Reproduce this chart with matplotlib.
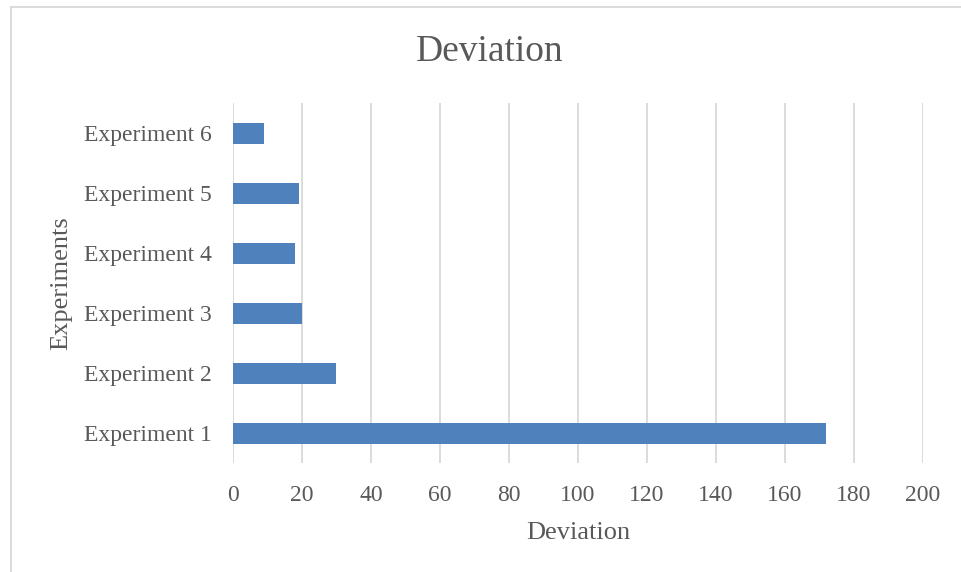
import matplotlib
matplotlib.use("Agg")
import matplotlib.pyplot as plt
from matplotlib.lines import Line2D

experiments = ["Experiment 1", "Experiment 2", "Experiment 3",
               "Experiment 4", "Experiment 5", "Experiment 6"]
deviation = [172, 30, 20, 18, 19, 9]
x_ticks = [0, 20, 40, 60, 80, 100, 120, 140, 160, 180, 200]

plt.rcParams['font.family'] = ['Liberation Serif', 'DejaVu Serif']
text_color = "#595959"
grid_color = "#D9D9D9"
bar_color = "#4F81BD"

W, H = 962, 572
fig = plt.figure(figsize=(W / 100, H / 100), dpi=100)

# chart area border (left and top edges visible)
fig.add_artist(Line2D([10.5 / W, 10.5 / W], [0, 1 - 7 / H],
                      transform=fig.transFigure, color=grid_color, lw=1.3))
fig.add_artist(Line2D([10.5 / W, 1], [1 - 7 / H, 1 - 7 / H],
                      transform=fig.transFigure, color=grid_color, lw=1.3))

ax = fig.add_axes([233 / W, 1 - 463 / H, (923 - 233) / W, (463 - 103) / H])
ypos = list(range(len(experiments)))
ax.barh(ypos, deviation, height=0.35, color=bar_color, zorder=3)

ax.set_xlim(0, 200)
ax.set_ylim(-0.5, len(experiments) - 0.5)
ax.set_xticks(x_ticks)
ax.set_yticks(ypos)
ax.set_yticklabels(experiments)
ax.xaxis.grid(True, color=grid_color, lw=1.3, zorder=0)
ax.set_axisbelow(True)
for s in ax.spines.values():
    s.set_visible(False)
ax.tick_params(axis='both', length=0, labelsize=17, colors=text_color)
ax.tick_params(axis='x', pad=15.5)
ax.tick_params(axis='y', pad=15)

ax.set_xlabel("Deviation", fontsize=19, color=text_color, labelpad=12)
ax.set_ylabel("Experiments", fontsize=19, color=text_color, labelpad=9)

fig.text(490 / W, 1 - 52 / H, "Deviation", fontsize=27, color=text_color,
         ha='center', va='center')

fig.savefig("out.png", dpi=100)
